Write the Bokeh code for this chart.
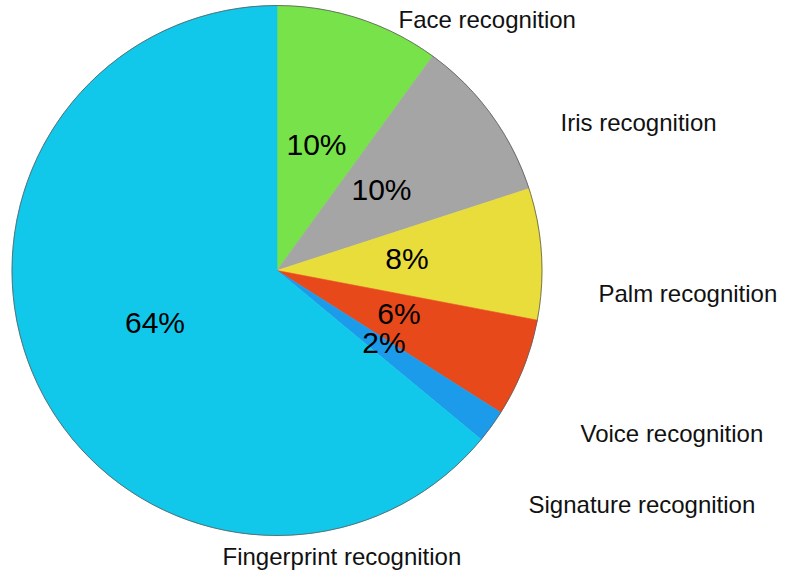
import math
from bokeh.plotting import figure
from bokeh.models import Range1d, ColumnDataSource
from bokeh.core.properties import value
from bokeh.embed import file_html
from bokeh.resources import INLINE

# ---- data ----
categories = ["Face recognition", "Iris recognition", "Palm recognition",
              "Voice recognition", "Signature recognition", "Fingerprint recognition"]
shares = [10, 10, 8, 6, 2, 64]
pct_labels = ["10%", "10%", "8%", "6%", "2%", "64%"]
colors = ["#77E24A", "#A5A5A5", "#E9DD3B", "#E8491B", "#1B9BEA", "#12C8EA"]

# ---- layout constants (screen px) ----
W, H = 779, 571
CX, CY, R = 276.5, 270, 265
pct_pos = [(316, 143.5), (381, 189), (406.5, 258), (398.5, 313), (383.5, 342), (154.5, 321.5)]
name_pos = [(398, 18.5), (560, 121.5), (598, 292.5), (580, 432.5), (528, 504), (222, 556)]

total = float(sum(shares))
starts, ends = [], []
a = math.pi / 2
for s in shares:
    starts.append(a)
    a -= 2 * math.pi * s / total
    ends.append(a)

src = ColumnDataSource(dict(
    x=[CX] * len(shares), y=[-CY] * len(shares),
    start=starts, end=ends, color=colors, cat=categories, share=shares))

p = figure(width=W, height=H, output_backend="svg", toolbar_location=None,
           x_range=Range1d(0, W), y_range=Range1d(-H, 0),
           min_border=0, outline_line_color=None)
p.axis.visible = False
p.grid.visible = False
p.background_fill_color = "white"

p.wedge(x="x", y="y", radius=R, start_angle="start", end_angle="end",
        direction="clock", fill_color="color", line_color="color",
        line_width=0.6, source=src)
p.circle(x=[CX], y=[-CY], radius=R, fill_color=None,
         line_color="#5a5a5a", line_width=0.8)

p.text(x=[q[0] for q in pct_pos], y=[-q[1] for q in pct_pos], text=pct_labels,
       text_font=value("Liberation Sans"), text_font_size="30px",
       text_align="center", text_baseline="alphabetic", text_color="black")
p.text(x=[q[0] for q in name_pos], y=[-q[1] for q in name_pos], text=categories,
       text_font=value("Liberation Sans"), text_font_size="24px",
       text_align="left", text_baseline="alphabetic", text_color="#111111")

open("out.html", "w").write(file_html(p, INLINE))
